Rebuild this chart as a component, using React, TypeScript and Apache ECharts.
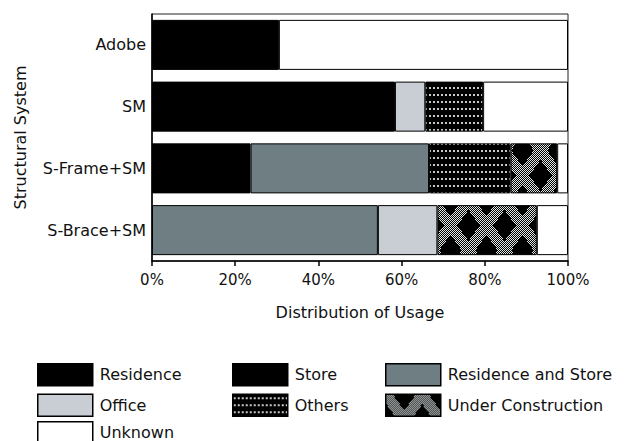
import { useEffect, useRef } from 'react';
import * as echarts from 'echarts';

const categories = ['Adobe', 'SM', 'S-Frame+SM', 'S-Brace+SM'];
const residence = [30.5, 58.4, 23.7, null];
const store = [null, null, null, null];
const residenceAndStore = [null, null, 42.9, 54.3];
const office = [null, 7.3, null, 14.3];
const others = [null, 13.9, 19.6, null];
const underConstruction = [null, null, 11.2, 23.9];
const unknown = [69.5, 20.4, 2.6, 7.5];
const xTicks = [0, 20, 40, 60, 80, 100];

const FONT = 'DejaVu Sans';

function dotsPattern() {
  const w = 4, h = 7;
  const c = document.createElement('canvas');
  c.width = w; c.height = h;
  const g = c.getContext('2d')!;
  g.fillStyle = '#000';
  g.fillRect(0, 0, w, h);
  g.fillStyle = '#c8c8c8';
  g.fillRect(1, 3, 2, 2);
  return { image: c.toDataURL(), repeat: 'repeat', imageWidth: w, imageHeight: h };
}

function crossPattern() {
  const w = 36, h = 50;
  const c = document.createElement('canvas');
  c.width = w; c.height = h;
  const g = c.getContext('2d')!;
  g.fillStyle = '#000';
  g.fillRect(0, 0, w, h);
  const len = Math.sqrt(w * w + h * h);
  g.fillStyle = '#e0e8e8';
  for (let y = 0; y < h; y++) {
    for (let x = 0; x < w; x++) {
      const d1 = Math.abs(h * x - w * y) / len;
      const d2 = Math.abs(h * (w - x) - w * y) / len;
      if ((d1 < 5.5 || d2 < 5.5) && (x + y) % 2 === 0) {
        g.fillRect(x, y, 1, 1);
      }
    }
  }
  return { image: c.toDataURL(), repeat: 'repeat', imageWidth: w, imageHeight: h };
}

export default function App() {
  const ref = useRef<HTMLDivElement>(null);
  useEffect(() => {
    if (!ref.current) return;
    const chart = echarts.init(ref.current, null, { renderer: 'svg' });
    const dots = dotsPattern();
    const cross = crossPattern();
    const border = { borderColor: '#000', borderWidth: 1 };
    const mk = (name: string, data: (number | null)[], color: any) => ({
      name,
      type: 'bar',
      stack: 'total',
      barWidth: '81%',
      data,
      itemStyle: { color, ...border },
      emphasis: { disabled: true },
    });
    const legendBase = {
      orient: 'vertical',
      top: 363,
      padding: 0,
      itemWidth: 55,
      itemHeight: 22,
      itemGap: 7,
      icon: 'rect',
      itemStyle: { borderColor: '#000', borderWidth: 1.5 },
      textStyle: { fontFamily: FONT, fontSize: 16, color: '#111', padding: [0, 0, 0, 2] },
    };
    chart.setOption({
      animation: false,
      backgroundColor: '#fff',
      grid: {
        left: 152,
        right: 63,
        top: 14,
        bottom: 180,
        show: true,
        borderColor: '#222',
        borderWidth: 1,
        backgroundColor: '#fff',
      },
      legend: [
        { ...legendBase, left: 37, data: ['Residence', 'Office'] },
        { ...legendBase, left: 37, top: 421, data: ['Unknown'] },
        { ...legendBase, left: 232, data: ['Store', 'Others'] },
        { ...legendBase, left: 385, data: ['Residence and Store', 'Under Construction'] },
      ],
      xAxis: {
        type: 'value',
        min: xTicks[0],
        max: xTicks[xTicks.length - 1],
        interval: 20,
        name: 'Distribution of Usage',
        nameLocation: 'middle',
        nameGap: 43,
        nameTextStyle: { fontFamily: FONT, fontSize: 16, color: '#111' },
        axisLine: { show: true, lineStyle: { color: '#000', width: 1.5 } },
        axisTick: { show: true, length: 5, lineStyle: { color: '#000', width: 1.5 } },
        axisLabel: {
          formatter: '{value}%',
          margin: 11,
          fontFamily: FONT,
          fontSize: 15,
          color: '#111',
        },
        splitLine: { show: false },
      },
      yAxis: {
        type: 'category',
        inverse: true,
        data: categories,
        name: 'Structural System',
        nameLocation: 'middle',
        nameGap: 124,
        nameTextStyle: { fontFamily: FONT, fontSize: 16, color: '#111' },
        axisLine: { show: true, lineStyle: { color: '#000', width: 1.5 } },
        axisTick: { show: false },
        axisLabel: { margin: 6, fontFamily: FONT, fontSize: 16, color: '#111' },
      },
      series: [
        mk('Residence', residence, '#000'),
        mk('Store', store, '#000'),
        mk('Residence and Store', residenceAndStore, '#6f7e83'),
        mk('Office', office, '#c9ced4'),
        mk('Others', others, dots),
        mk('Under Construction', underConstruction, cross),
        mk('Unknown', unknown, '#fff'),
      ],
    });
    return () => chart.dispose();
  }, []);
  return (
    <div
      ref={ref}
      style={{ position: 'fixed', left: 0, top: 0, width: 631, height: 441 }}
    />
  );
}
